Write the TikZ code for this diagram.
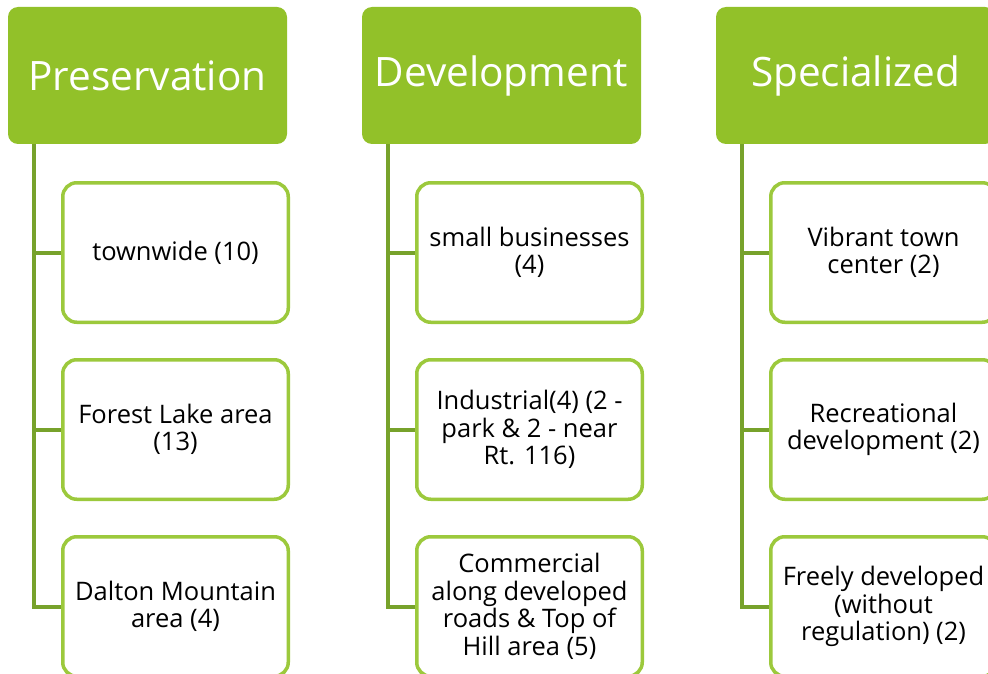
\documentclass[tikz,border=0pt]{standalone}
\usepackage{fontspec}
\setmainfont{Open Sans}
\definecolor{hdrgreen}{HTML}{92C129}
\definecolor{boxgreen}{HTML}{9CC93C}
\definecolor{linegreen}{HTML}{77A22B}
\begin{document}
\begin{tikzpicture}[x=1pt,y=-1pt,
  hdrbox/.style={fill=hdrgreen, draw=none, rounded corners=10pt, minimum width=279pt, minimum height=137pt, text=white, font=\fontsize{40.5}{46}\selectfont, inner sep=0pt},
  childbox/.style={draw=boxgreen, line width=3.5pt, fill=white, rounded corners=14pt, minimum width=225.5pt, minimum height=139.5pt, align=center, font=\fontsize{25.5}{27.5}\selectfont, inner sep=0pt},
  conn/.style={draw=linegreen, line width=4pt}]
\useasboundingbox (0,0) rectangle (988,674);
\fill[white] (0,0) rectangle (988,674);
% headers
\node[hdrbox] (h1) at (147.5,75.5) {Preservation};
\node[hdrbox] (h2) at (501.5,75.5) {Development};
\node[hdrbox] (h3) at (855.5,75.5) {Specialized};
% spine start points
\coordinate (s1) at (34,144);
\coordinate (s2) at (388,144);
\coordinate (s3) at (742,144);
% children
\node[childbox] (c11) at (175.5,252.5) {townwide (10)};
\node[childbox] (c12) at (175.5,429.5) {Forest Lake area\\(13)};
\node[childbox] (c13) at (175.5,606.5) {Dalton Mountain\\area (4)};
\node[childbox] (c21) at (529.5,252.5) {small businesses\\(4)};
\node[childbox] (c22) at (529.5,429.5) {Industrial(4) (2 -\\park \& 2 - near\\Rt. 116)};
\node[childbox] (c23) at (529.5,606.5) {Commercial\\along developed\\roads \& Top of\\Hill area (5)};
\node[childbox] (c31) at (883.5,252.5) {Vibrant town\\center (2)};
\node[childbox] (c32) at (883.5,429.5) {Recreational\\development (2)};
\node[childbox] (c33) at (883.5,606.5) {Freely developed\\(without\\regulation) (2)};
% connectors
\foreach \i in {1,2,3}{
  \draw[conn] (s\i) |- (c\i3.west);
  \draw[conn] (s\i |- c\i1.west) -- (c\i1.west);
  \draw[conn] (s\i |- c\i2.west) -- (c\i2.west);
}
\end{tikzpicture}
\end{document}
